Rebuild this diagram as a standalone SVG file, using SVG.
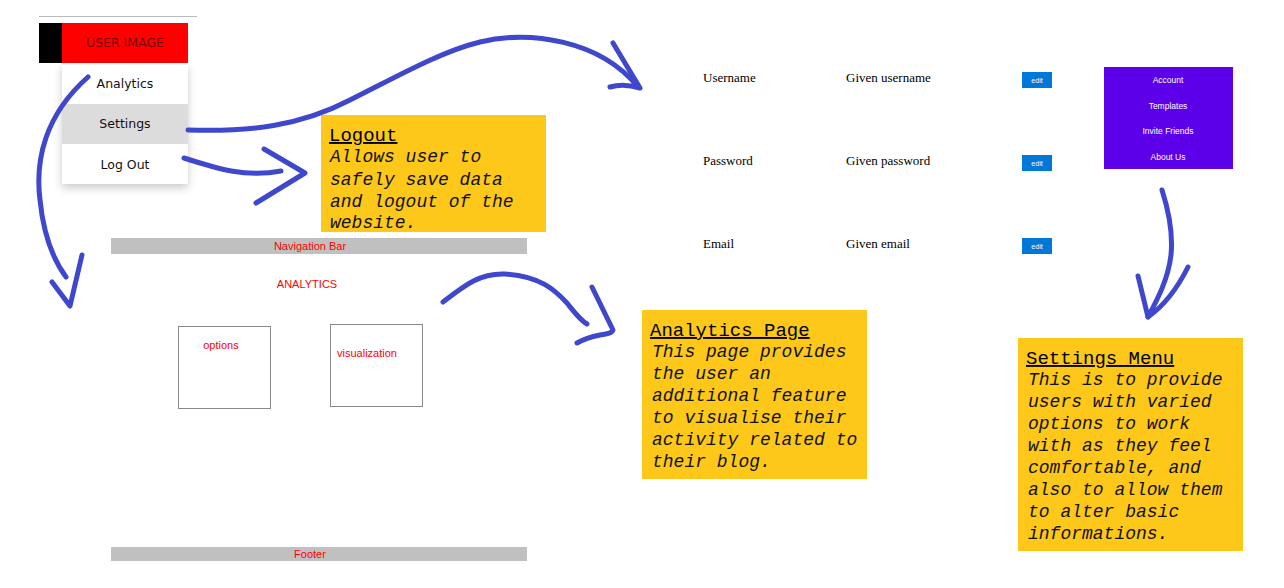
<svg xmlns="http://www.w3.org/2000/svg" width="1284" height="588" viewBox="0 0 1284 588">
<style>
.menu{font-family:"DejaVu Sans",Verdana,sans-serif;font-size:12.5px;fill:#111;text-anchor:middle}
.red{font-family:"Liberation Sans",Arial,sans-serif;font-size:11px;fill:#ff0000;text-anchor:middle}
.form{font-family:"Liberation Serif","Times New Roman",serif;font-size:13px;fill:#000}
.edit{font-family:"Liberation Sans",Arial,sans-serif;font-size:7px;fill:#fff;text-anchor:middle}
.pm{font-family:"Liberation Sans",Arial,sans-serif;font-size:8.5px;fill:#fff;text-anchor:middle}
.note{fill:#fec81a}
.ttl{font-family:"Liberation Mono","Courier New",monospace;font-size:19px;fill:#000;text-decoration:underline}
.body{font-family:"Liberation Mono","Courier New",monospace;font-size:18px;font-style:italic;fill:#111}
.arr{fill:none;stroke:#3f48cc;stroke-width:5;stroke-linecap:round;stroke-linejoin:round}
.box{fill:#fff;stroke:#888;stroke-width:1}
.btn{fill:#0078d7}
</style>
<defs>
<filter id="sh" x="-20%" y="-20%" width="140%" height="150%">
<feDropShadow dx="0" dy="4" stdDeviation="4" flood-color="#000" flood-opacity="0.2"/>
</filter>
</defs>
<rect width="1284" height="588" fill="#fff"/>

<g id="user-menu">
<line x1="39" y1="16.5" x2="197" y2="16.5" stroke="#bbb" stroke-width="1"/>
<rect x="39" y="23" width="23" height="40" fill="#000"/>
<rect x="62" y="23" width="126" height="40" fill="#ff0000"/>
<text x="125" y="47" class="menu" fill="#800000" style="fill:#7a0000">USER IMAGE</text>
<rect x="62" y="63" width="126" height="121" fill="#fff" filter="url(#sh)"/>
<rect x="62" y="104" width="126" height="40" fill="#dcdcdc"/>
<text x="125" y="88" class="menu">Analytics</text>
<text x="125" y="128" class="menu">Settings</text>
<text x="125" y="169" class="menu">Log Out</text>
</g>

<g id="logout-note">
<rect x="321" y="115" width="225" height="117" class="note"/>
<text x="329" y="141" class="ttl">Logout</text>
<text class="body"><tspan x="330" y="162">Allows user to</tspan><tspan x="330" y="185">safely save data</tspan><tspan x="330" y="207">and logout of the</tspan><tspan x="330" y="228">website.</tspan></text>
</g>

<g id="analytics-page">
<rect x="111" y="238" width="416" height="16" fill="#c0c0c0"/>
<text x="310" y="250" class="red">Navigation Bar</text>
<text x="307" y="288" class="red">ANALYTICS</text>
<rect x="178.5" y="326.5" width="92" height="82" class="box"/>
<text x="221" y="349" class="red">options</text>
<rect x="330.5" y="324.5" width="92" height="82" class="box"/>
<text x="367" y="357" class="red">visualization</text>
<rect x="111" y="547" width="416" height="14" fill="#c0c0c0"/>
<text x="310" y="558" class="red">Footer</text>
</g>

<g id="settings-form">
<text x="703" y="82" class="form">Username</text>
<text x="846" y="82" class="form">Given username</text>
<rect x="1022" y="72" width="30" height="16" class="btn"/>
<text x="1037" y="82.5" class="edit">edit</text>
<text x="703" y="165" class="form">Password</text>
<text x="846" y="165" class="form">Given password</text>
<rect x="1022" y="155" width="30" height="16" class="btn"/>
<text x="1037" y="165.5" class="edit">edit</text>
<text x="703" y="248" class="form">Email</text>
<text x="846" y="248" class="form">Given email</text>
<rect x="1022" y="238" width="30" height="16" class="btn"/>
<text x="1037" y="248.5" class="edit">edit</text>
</g>

<g id="settings-menu">
<rect x="1104" y="67" width="129" height="102" fill="#5b00e8"/>
<text x="1168" y="83" class="pm">Account</text>
<text x="1168" y="108.5" class="pm">Templates</text>
<text x="1168" y="134" class="pm">Invite Friends</text>
<text x="1168" y="159.5" class="pm">About Us</text>
</g>

<g id="analytics-note">
<rect x="642" y="310" width="225" height="169" class="note"/>
<text x="650" y="336" class="ttl">Analytics Page</text>
<text class="body"><tspan x="652" y="357">This page provides</tspan><tspan x="652" y="379">the user an</tspan><tspan x="652" y="401">additional feature</tspan><tspan x="652" y="423">to visualise their</tspan><tspan x="652" y="445">activity related to</tspan><tspan x="652" y="467">their blog.</tspan></text>
</g>

<g id="settings-note">
<rect x="1018" y="338" width="225" height="213" class="note"/>
<text x="1026" y="364" class="ttl">Settings Menu</text>
<text class="body"><tspan x="1028" y="385">This is to provide</tspan><tspan x="1028" y="407">users with varied</tspan><tspan x="1028" y="429">options to work</tspan><tspan x="1028" y="451">with as they feel</tspan><tspan x="1028" y="473">comfortable, and</tspan><tspan x="1028" y="495">also to allow them</tspan><tspan x="1028" y="517">to alter basic</tspan><tspan x="1028" y="539">informations.</tspan></text>
</g>

<g id="connectors">
<path class="arr" d="M88 77 C 45 115, 35 160, 40 200 C 44 240, 55 262, 66 277"/>
<path class="arr" d="M52 282 L70 306 L82 255"/>
<path class="arr" d="M188 130 C 250 132, 300 126, 350 100 C 400 75, 440 52, 480 42 C 530 30, 600 40, 638 87"/>
<path class="arr" d="M613 43 L640 88 C 630 85, 620 84, 610 87"/>
<path class="arr" d="M184 158 C 215 168, 245 178, 281 171"/>
<path class="arr" d="M264 149 L305 173 L256 203"/>
<path class="arr" d="M443 302 C 465 285, 480 273, 505 274 C 540 276, 555 290, 567 303 C 575 313, 580 320, 587 324"/>
<path class="arr" d="M592 287 L613 330 C 612 333, 608 334, 600 335 C 590 337, 584 339, 577 343"/>
<path class="arr" d="M1162 190 C 1170 215, 1173 235, 1171 255 C 1168 280, 1157 300, 1148 317"/>
<path class="arr" d="M1138 276 L1148 317 C 1165 305, 1178 287, 1188 267"/>
</g>
</svg>
